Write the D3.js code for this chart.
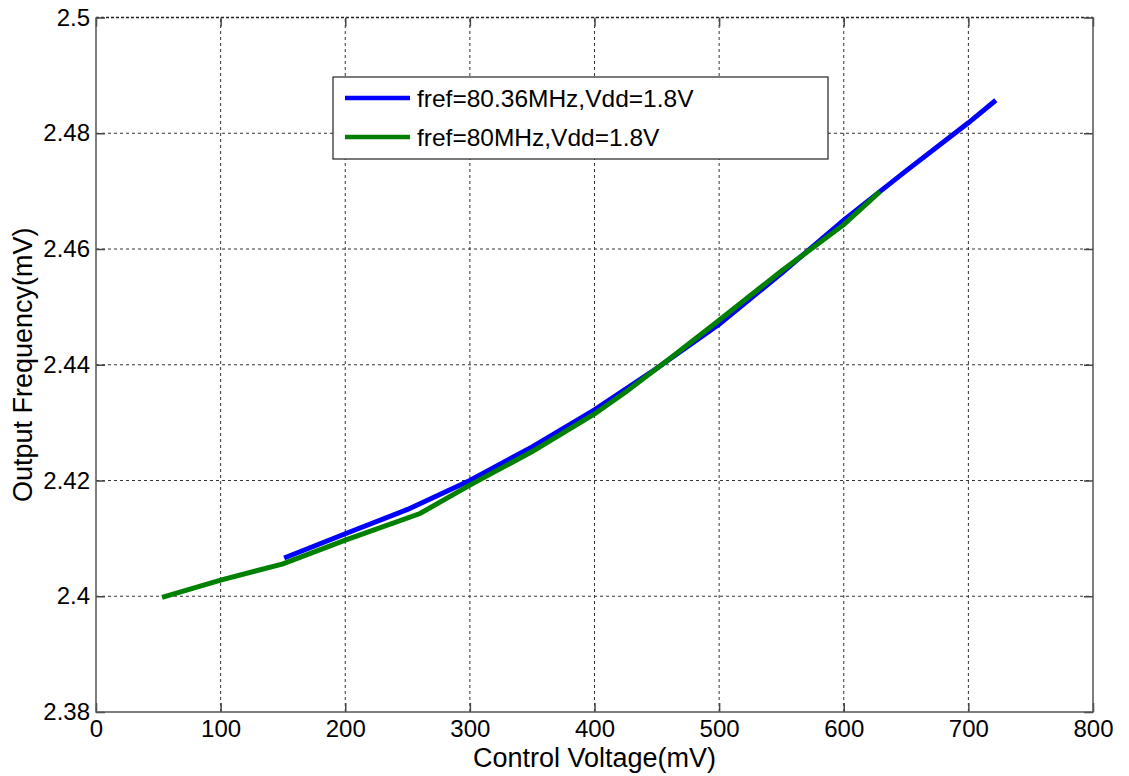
<!DOCTYPE html>
<html>
<head>
<meta charset="utf-8">
<script src="https://cdn.jsdelivr.net/npm/d3@7"></script>
<style>
  body { margin: 0; background: #fff; }
  text { font-family: "Liberation Sans", Arial, sans-serif; fill: #000; }
</style>
</head>
<body>
<div id="chart"></div>
<script>
(() => {
"use strict";

const WIDTH = 1129, HEIGHT = 776;
const margin = { top: 17.5, right: 36, bottom: 64, left: 96 };

// series (mV, output frequency)
const blueX = [151, 200, 250, 300, 350, 400, 450, 500, 550, 600, 650, 700, 722];
const blueY = [2.4066, 2.4108, 2.4150, 2.4200, 2.4258, 2.4322, 2.4394, 2.4470, 2.4558, 2.4650, 2.4735, 2.4818, 2.4857];
const greenX = [53, 100, 150, 200, 260, 300, 350, 400, 425, 460, 500, 550, 600, 629];
const greenY = [2.3998, 2.4028, 2.4056, 2.4097, 2.4143, 2.4192, 2.4250, 2.4315, 2.4353, 2.4410, 2.4477, 2.4562, 2.4642, 2.4699];

const xTicks = [0, 100, 200, 300, 400, 500, 600, 700, 800];
const yTicks = [2.38, 2.40, 2.42, 2.44, 2.46, 2.48, 2.50];
const yTickLabels = ["2.38", "2.4", "2.42", "2.44", "2.46", "2.48", "2.5"];
const seriesNames = ["fref=80.36MHz,Vdd=1.8V", "fref=80MHz,Vdd=1.8V"];
const seriesColors = ["#0000ff", "#008000"];

let svg = d3.select("#chart").append("svg")
  .attr("width", WIDTH)
  .attr("height", HEIGHT);

let xScale = d3.scaleLinear()
  .domain([0, 800])
  .range([margin.left, WIDTH - margin.right]);
let yScale = d3.scaleLinear()
  .domain([2.38, 2.5])
  .range([HEIGHT - margin.bottom, margin.top]);

let x0 = xScale.range()[0], x1 = xScale.range()[1];
let y0 = yScale.range()[0], y1 = yScale.range()[1];

// grid (dotted, MATLAB style)
let grid = svg.append("g");
grid.selectAll(".gx").data(xTicks.slice(1, -1)).enter().append("line")
  .attr("x1", d => xScale(d)).attr("x2", d => xScale(d))
  .attr("y1", y0).attr("y2", y1)
  .attr("stroke", "#333").attr("stroke-width", 1)
  .attr("stroke-dasharray", "3,3");
grid.selectAll(".gy").data(yTicks.slice(1, -1)).enter().append("line")
  .attr("x1", x0).attr("x2", x1)
  .attr("y1", d => yScale(d)).attr("y2", d => yScale(d))
  .attr("stroke", "#333").attr("stroke-width", 1)
  .attr("stroke-dasharray", "3,3");
// top edge is dotted in the picture too
svg.append("line")
  .attr("x1", x0).attr("x2", x1).attr("y1", y1).attr("y2", y1)
  .attr("stroke", "#222").attr("stroke-width", 1.5)
  .attr("stroke-dasharray", "3,2");

// axes with inward ticks
let xAxis = svg.append("g")
  .attr("transform", `translate(0,${y0})`)
  .call(d3.axisBottom(xScale).tickValues(xTicks).tickSizeInner(-9).tickSizeOuter(0).tickPadding(8));
let yAxis = svg.append("g")
  .attr("transform", `translate(${x0},0)`)
  .call(d3.axisLeft(yScale).tickValues(yTicks).tickFormat((d, i) => yTickLabels[i])
    .tickSizeInner(-9).tickSizeOuter(0).tickPadding(6));
let xTop = svg.append("g")
  .attr("transform", `translate(0,${y1})`)
  .call(d3.axisTop(xScale).tickValues(xTicks).tickSizeInner(-9).tickSizeOuter(0).tickFormat(""));
let yRight = svg.append("g")
  .attr("transform", `translate(${x1},0)`)
  .call(d3.axisRight(yScale).tickValues(yTicks).tickSizeInner(-9).tickSizeOuter(0).tickFormat(""));

[xAxis, yAxis, xTop, yRight].forEach(a => {
  a.select(".domain").remove();
  a.selectAll(".tick line").attr("stroke", "#444").attr("stroke-width", 1.5);
  a.selectAll("text").attr("font-size", 24).attr("fill", "#000")
    .attr("font-family", '"Liberation Sans", Arial, sans-serif');
});

// frame: left, bottom, right solid
svg.append("path")
  .attr("d", `M${x0},${y1}V${y0}H${x1}V${y1}`)
  .attr("fill", "none").attr("stroke", "#555").attr("stroke-width", 1.5);

// data lines
let line = d3.line()
  .x(d => xScale(d[0]))
  .y(d => yScale(d[1]));

let blueData = blueX.map((x, i) => [x, blueY[i]]);
let greenData = greenX.map((x, i) => [x, greenY[i]]);

svg.append("path")
  .datum(blueData)
  .attr("fill", "none")
  .attr("stroke", seriesColors[0])
  .attr("stroke-width", 5)
  .attr("d", line);
svg.append("path")
  .datum(greenData)
  .attr("fill", "none")
  .attr("stroke", seriesColors[1])
  .attr("stroke-width", 5)
  .attr("d", line);

// legend
let legend = svg.append("g").attr("transform", "translate(333,77)");
legend.append("rect")
  .attr("width", 495).attr("height", 82)
  .attr("fill", "#fff").attr("stroke", "#222").attr("stroke-width", 1.2);
seriesNames.forEach((name, i) => {
  let yy = 21 + i * 39;
  legend.append("line")
    .attr("x1", 12).attr("x2", 77).attr("y1", yy).attr("y2", yy)
    .attr("stroke", seriesColors[i]).attr("stroke-width", 4.5);
  legend.append("text")
    .attr("x", 84).attr("y", yy + 9)
    .attr("font-size", 24.5)
    .text(name);
});

// axis labels
svg.append("text")
  .attr("x", (x0 + x1) / 2).attr("y", 767)
  .attr("text-anchor", "middle")
  .attr("font-size", 27)
  .text("Control Voltage(mV)");
svg.append("text")
  .attr("transform", `translate(32,${(y0 + y1) / 2}) rotate(-90)`)
  .attr("text-anchor", "middle")
  .attr("font-size", 27)
  .text("Output Frequency(mV)");
})();
</script>
</body>
</html>
